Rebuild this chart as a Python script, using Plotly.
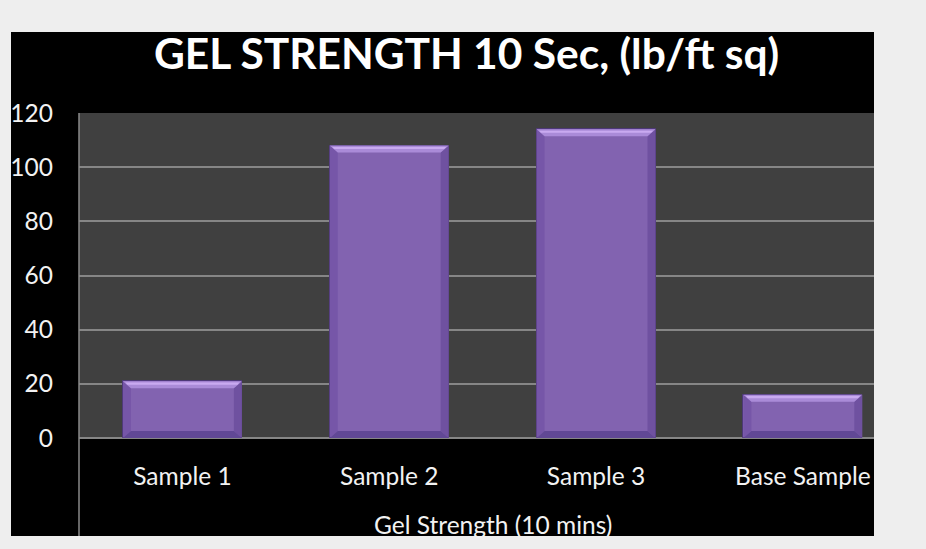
import plotly.graph_objects as go

# Gel strength readings (lb/ft sq) per sample
categories = ["Sample 1", "Sample 2", "Sample 3", "Base Sample"]
gel_strength = [21, 108, 114, 16]
y_ticks = [0, 20, 40, 60, 80, 100, 120]

FONT = "Lato"
TEXT = "#f2f2f2"
BAR_WIDTH = 0.575
X_RANGE = [-0.5, 3.344]
Y_RANGE = [0, 120]

# plot-area geometry in pixels (used to size the bevel facets)
W, H = 926, 549
M_L, M_R, M_T, M_B = 79, 52, 113, 111
plot_w = W - M_L - M_R
plot_h = H - M_T - M_B
x_per_px = (X_RANGE[1] - X_RANGE[0]) / plot_w
y_per_px = (Y_RANGE[1] - Y_RANGE[0]) / plot_h

fig = go.Figure()
fig.add_trace(go.Bar(
    x=list(range(len(categories))),
    y=gel_strength,
    width=BAR_WIDTH,
    marker=dict(color="#8263b0", line=dict(color="#4d3877", width=1)),
    showlegend=False,
    hoverinfo="skip",
))

shapes = []
# black chart panel, then the grey plot area on top of it
panel_x0 = (11 - M_L) / plot_w
panel_y0 = -(536 - (H - M_B)) / plot_h
panel_y1 = ((H - M_B) - 32) / plot_h
shapes.append(dict(type="rect", xref="paper", yref="paper",
                   x0=panel_x0, x1=1, y0=panel_y0, y1=panel_y1,
                   fillcolor="black", line=dict(width=0), layer="below"))
shapes.append(dict(type="rect", xref="paper", yref="paper",
                   x0=0, x1=1, y0=0, y1=1,
                   fillcolor="#404040", line=dict(width=0), layer="below"))

# bevel facets on each bar
dx = 8 * x_per_px
dy = 7 * y_per_px
for i, v in enumerate(gel_strength):
    x0, x1 = i - BAR_WIDTH / 2, i + BAR_WIDTH / 2
    facets = [
        ([(x0, 0), (x0 + dx, dy), (x0 + dx, v - dy), (x0, v)], "#7656a8"),
        ([(x1, 0), (x1 - dx, dy), (x1 - dx, v - dy), (x1, v)], "#6f51a0"),
        ([(x0, 0), (x1, 0), (x1 - dx, dy), (x0 + dx, dy)], "#614895"),
        ([(x0, v), (x1, v), (x1 - dx, v - dy), (x0 + dx, v - dy)], "#aa8bd8"),
        ([(x0 + dx * 0.3, v - dy * 0.2), (x1 - dx * 0.3, v - dy * 0.2),
          (x1 - dx * 0.55, v - dy * 0.5), (x0 + dx * 0.55, v - dy * 0.5)], "#c9aaf0"),
    ]
    for pts, col in facets:
        path = "M " + " L ".join(f"{px},{py}" for px, py in pts) + " Z"
        shapes.append(dict(type="path", path=path, xref="x", yref="y",
                           fillcolor=col, line=dict(width=0), layer="above"))

# vertical axis line running down through the category band
shapes.append(dict(type="line", xref="paper", yref="paper",
                   x0=0, x1=0, y0=panel_y0, y1=1,
                   line=dict(color="#8a8a8a", width=1.5), layer="above"))

fig.update_layout(
    width=W, height=H,
    margin=dict(l=M_L, r=M_R, t=M_T, b=M_B, autoexpand=False),
    paper_bgcolor="#eeeeee",
    plot_bgcolor="#404040",
    bargap=0,
    shapes=shapes,
    font=dict(family=FONT, color=TEXT),
    xaxis=dict(
        range=X_RANGE,
        automargin=False,
        tickmode="array",
        tickvals=list(range(len(categories))),
        ticktext=categories,
        showgrid=False,
        zeroline=False,
        showline=False,
        ticks="",
        tickfont=dict(size=24.5, color=TEXT, family=FONT),
        ticklabelstandoff=21,
    ),
    yaxis=dict(
        range=Y_RANGE,
        automargin=False,
        tickvals=y_ticks,
        showgrid=True,
        gridcolor="#868686",
        gridwidth=1.5,
        zeroline=True,
        zerolinecolor="#868686",
        zerolinewidth=1.5,
        showline=False,
        ticks="",
        tickfont=dict(size=24.5, color=TEXT, family=FONT),
        ticklabelstandoff=25,
    ),
    annotations=[
        dict(text="<b>GEL STRENGTH 10 Sec, (lb/ft sq)</b>",
             xref="paper", yref="paper",
             x=(466 - M_L) / plot_w, y=((H - M_B) - 52) / plot_h,
             xanchor="center", yanchor="middle", showarrow=False,
             font=dict(size=42.5, color="white", family=FONT)),
        dict(text="Gel Strength (10 mins)",
             xref="x", yref="paper",
             x=1.5, y=-((524) - (H - M_B)) / plot_h,
             xanchor="center", yanchor="middle", showarrow=False,
             font=dict(size=24.5, color=TEXT, family=FONT)),
    ],
)

fig.write_html("out.html")
